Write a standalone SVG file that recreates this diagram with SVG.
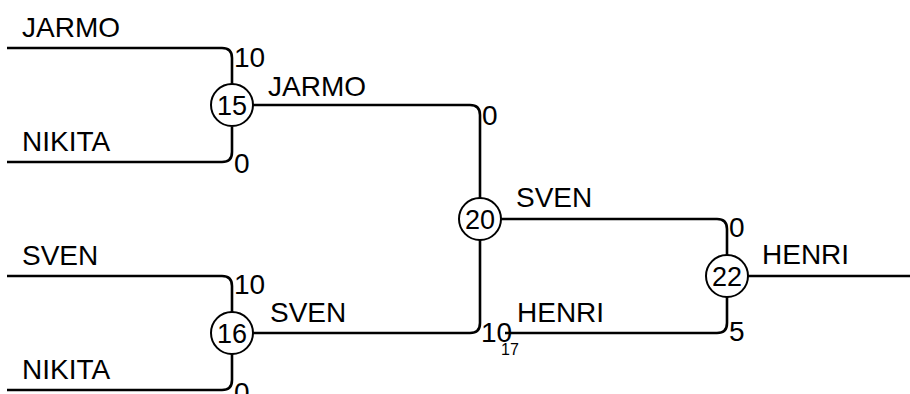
<svg xmlns="http://www.w3.org/2000/svg" width="910" height="394" viewBox="0 0 910 394">
<style>
.ln{fill:none;stroke:#000;stroke-width:2.6}
.nd{fill:#fff;stroke:#000;stroke-width:2}
text{font-family:"Liberation Sans",Arial,sans-serif;font-size:28px;fill:#000}
.c{text-anchor:middle;dominant-baseline:central;font-size:27px}
.sm{font-size:16px}
</style>
<rect width="910" height="394" fill="#fff"/>
<g id="connectors">
<path class="ln" d="M7,48 H222 Q232,48 232,58 V85"/>
<path class="ln" d="M7,162 H222 Q232,162 232,152 V127"/>
<path class="ln" d="M7,276 H222 Q232,276 232,286 V312"/>
<path class="ln" d="M7,390 H222 Q232,390 232,380 V354"/>
<path class="ln" d="M253,105 H470 Q480,105 480,115 V198"/>
<path class="ln" d="M253,333 H470 Q480,333 480,323 V240"/>
<path class="ln" d="M501,219 H717 Q727,219 727,229 V255"/>
<path class="ln" d="M505,333 H717 Q727,333 727,323 V297"/>
<path class="ln" d="M748,276 H910"/>
</g>
<g id="labels">
<text x="22" y="37">JARMO</text>
<text x="22" y="151">NIKITA</text>
<text x="22" y="265">SVEN</text>
<text x="22" y="379">NIKITA</text>
<text x="234" y="67">10</text>
<text x="234" y="173">0</text>
<text x="234" y="294">10</text>
<text x="234" y="402">0</text>
<text x="268" y="96">JARMO</text>
<text x="270" y="322">SVEN</text>
<text x="482" y="125">0</text>
<text x="481" y="342">10</text>
<text x="516" y="207">SVEN</text>
<text x="517" y="322">HENRI</text>
<text x="729" y="237">0</text>
<text x="729" y="341">5</text>
<text x="762" y="264">HENRI</text>
</g>
<g id="node15"><circle class="nd" cx="232" cy="105" r="21"/><text class="c" x="232" y="106">15</text></g>
<g id="node16"><circle class="nd" cx="232" cy="333" r="21"/><text class="c" x="232" y="334">16</text></g>
<g id="node20"><circle class="nd" cx="480" cy="219" r="21"/><text class="c" x="480" y="220">20</text></g>
<g id="node22"><circle class="nd" cx="727" cy="276" r="21"/><text class="c" x="727" y="277">22</text></g>
<g id="node17"><text class="sm" x="501" y="355">17</text></g>
</svg>
